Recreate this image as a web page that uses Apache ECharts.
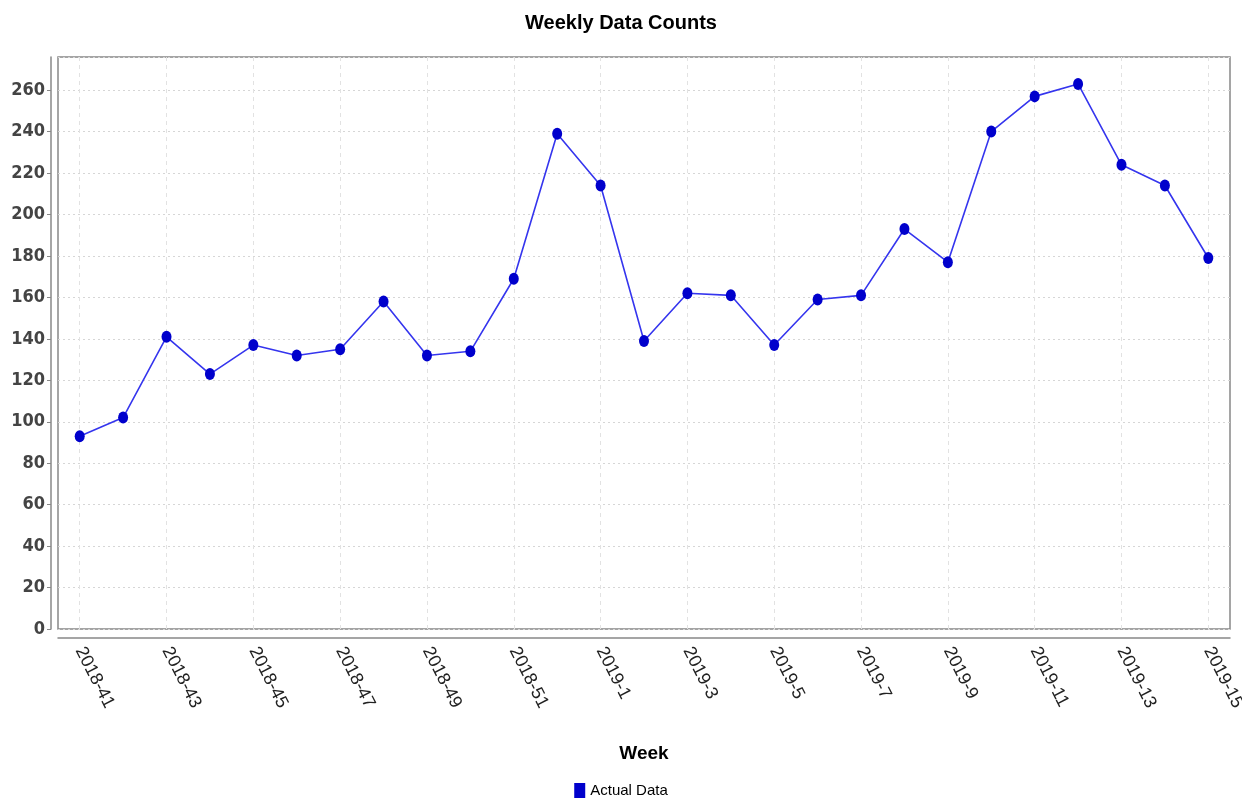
<!DOCTYPE html>
<html>
<head>
<meta charset="utf-8">
<script src="https://cdn.jsdelivr.net/npm/echarts@6/dist/echarts.min.js"></script>
<style>
  html, body { margin: 0; padding: 0; background: #fff; }
  #chart { width: 1242px; height: 804px; }
</style>
</head>
<body>
<div id="chart"></div>
<script>
const weeks = [
  '2018-41', '2018-42', '2018-43', '2018-44', '2018-45', '2018-46', '2018-47',
  '2018-48', '2018-49', '2018-50', '2018-51', '2018-52',
  '2019-1', '2019-2', '2019-3', '2019-4', '2019-5', '2019-6', '2019-7',
  '2019-8', '2019-9', '2019-10', '2019-11', '2019-12', '2019-13', '2019-14', '2019-15'
]
const actualData = [
  93, 102, 141, 123, 137, 132, 135, 158, 132, 134, 169, 239,
  214, 139, 162, 161, 137, 159, 161, 193, 177, 240, 257, 263, 224, 214, 179
]

// narrow fonts first, if the box has them
const font = '"DejaVu Sans Condensed", "Liberation Sans Narrow", "Liberation Sans", Arial, sans-serif'
const sans = '"Liberation Sans", Arial, sans-serif'

const chart = echarts.init(document.getElementById('chart'))

chart.setOption({
  animation: false,
  backgroundColor: '#fff',
  title: {
    text: 'Weekly Data Counts',
    left: 'center',
    top: 8,
    textStyle: { fontFamily: sans, fontSize: 20, fontWeight: 'bold', color: '#000' }
  },
  legend: {
    bottom: 1,
    left: 'center',
    icon: 'rect',
    itemWidth: 11,
    itemHeight: 15,
    itemGap: 4,
    textStyle: { fontFamily: sans, fontSize: 15, color: '#000' },
    data: ['Actual Data']
  },
  grid: {
    left: 58, right: 12, top: 57, bottom: 175,
    outerBoundsMode: 'none',
    show: true,
    borderColor: '#888',
    borderWidth: 1.5
  },
  xAxis: {
    type: 'category',
    data: weeks,
    boundaryGap: true,
    offset: 9,
    name: 'Week',
    nameLocation: 'middle',
    nameGap: 106,
    nameTextStyle: { fontFamily: sans, fontSize: 19, fontWeight: 'bold', color: '#000' },
    axisLine: { onZero: false, lineStyle: { color: '#888', width: 1.5 } },
    axisTick: { alignWithLabel: true, interval: 1, length: 5, lineStyle: { color: '#888' } },
    axisLabel: {
      interval: 1,
      rotate: -63,
      margin: 10,
      fontFamily: sans,
      fontSize: 18,
      color: '#222'
    },
    splitLine: {
      show: true,
      alignWithLabel: true,
      interval: 1,
      lineStyle: { color: '#e2e2e2', type: [4, 4] }
    }
  },
  yAxis: {
    type: 'value',
    min: 0,
    max: 276,
    interval: 20,
    offset: 7,
    axisLine: { show: true, lineStyle: { color: '#888', width: 1.5 } },
    axisTick: { show: true, length: 4, lineStyle: { color: '#888' } },
    axisLabel: {
      showMaxLabel: false,
      margin: 6,
      fontFamily: font,
      fontSize: 18,
      fontWeight: 'bold',
      color: '#444'
    },
    splitLine: { lineStyle: { color: '#d6d6d6', type: [2, 3] } }
  },
  series: [{
    name: 'Actual Data',
    type: 'line',
    data: actualData,
    symbol: 'circle',
    symbolSize: [10, 12],
    itemStyle: { color: '#0000cc' },
    lineStyle: { color: '#3535ee', width: 1.6 }
  }]
})
</script>
</body>
</html>
